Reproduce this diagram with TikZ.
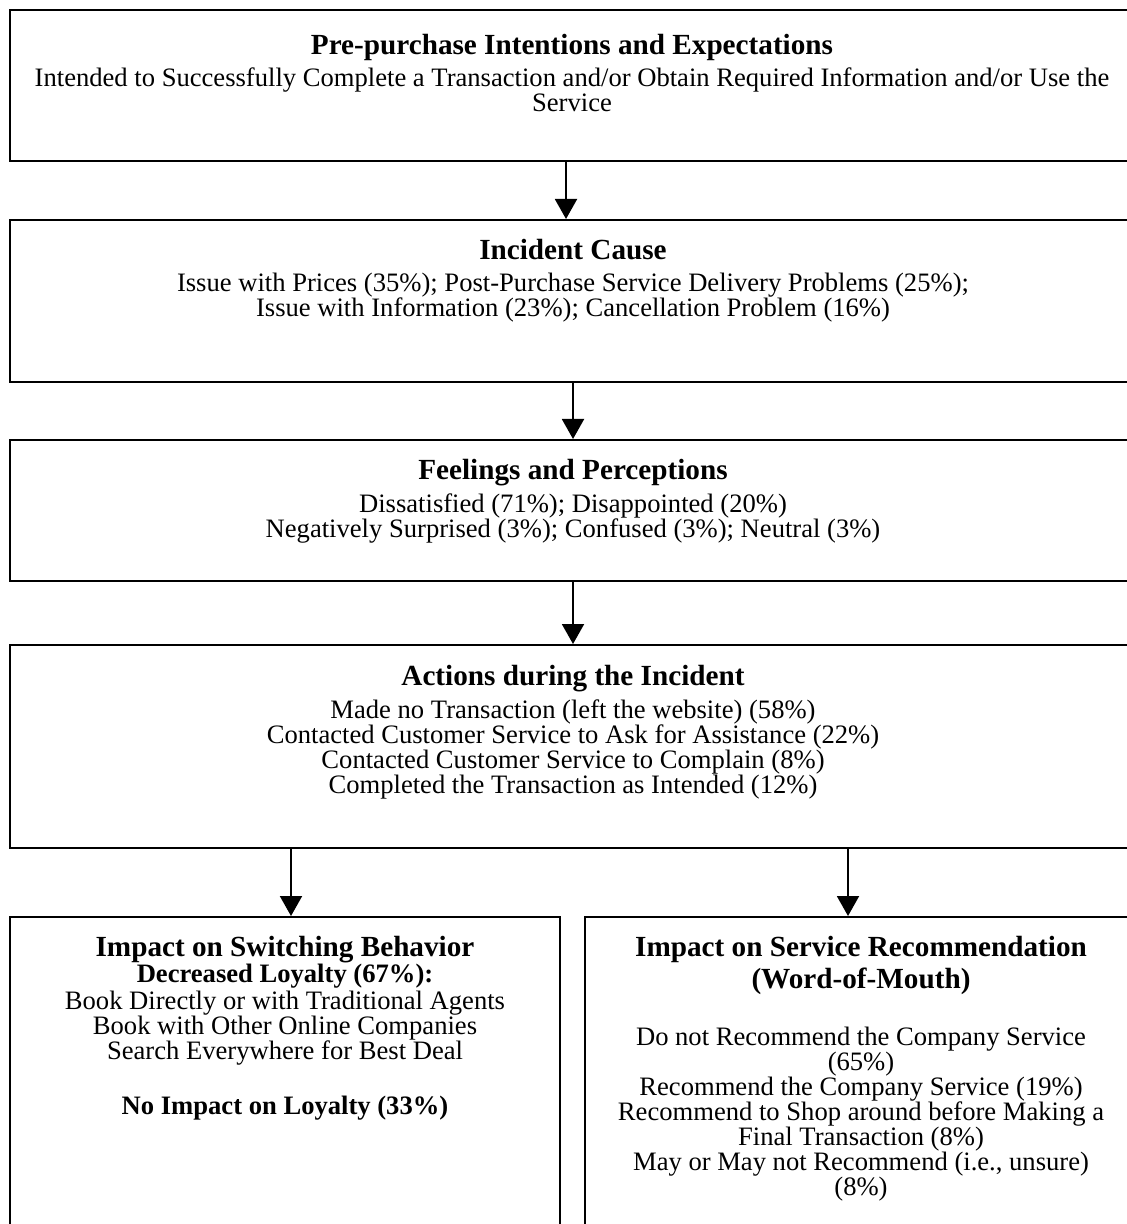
\documentclass[tikz,border=0pt]{standalone}
\usepackage{fontspec}
\setmainfont{Liberation Serif}
\usetikzlibrary{arrows.meta}
\newcommand\boxtitle[1]{{\fontsize{14.6pt}{12.5pt}\selectfont\bfseries #1}}
\begin{document}
\begin{tikzpicture}[x=0.5pt,y=-0.5pt,
  box/.style={draw, line width=1pt, inner sep=0pt, rectangle},
  arr/.style={line width=1pt, -{Triangle[width=11pt,length=10pt]}},
  txt/.style={align=center, inner sep=0pt, anchor=north, font=\fontsize{13.3pt}{12.5pt}\selectfont},
]
\useasboundingbox (0,0) rectangle (1127,1224);
\clip (0,0) rectangle (1127,1224);
\fill[white] (0,0) rectangle (1127,1224);

% boxes
\node[box, minimum width=565pt, minimum height=75.5pt] (b1) at (575,85.5) {};
\node[box, minimum width=565pt, minimum height=81pt] (b2) at (575,301) {};
\node[box, minimum width=565pt, minimum height=70.5pt] (b3) at (575,510.5) {};
\node[box, minimum width=565pt, minimum height=101.5pt] (b4) at (575,746.5) {};
\node[box, minimum width=275pt, minimum height=166.5pt] (b5) at (285,1083.5) {};
\node[box, minimum width=277.5pt, minimum height=166.5pt] (b6) at (862.5,1083.5) {};

% texts
\node[txt] (t1) at (572,34) {\boxtitle{Pre-purchase Intentions and Expectations}\\[3.5pt]
Intended to Successfully Complete a Transaction and/or Obtain Required Information and/or Use the\\
Service};
\node[txt] (t2) at (573,239) {\boxtitle{Incident Cause}\\[3.5pt]
Issue with Prices (35\%); Post-Purchase Service Delivery Problems (25\%);\\
Issue with Information (23\%); Cancellation Problem (16\%)};
\node[txt] (t3) at (573,459) {\boxtitle{Feelings and Perceptions}\\[3pt]
Dissatisfied (71\%); Disappointed (20\%)\\
Negatively Surprised (3\%); Confused (3\%); Neutral (3\%)};
\node[txt] (t4) at (573,665) {\boxtitle{Actions during the Incident}\\[3pt]
Made no Transaction (left the website) (58\%)\\
Contacted Customer Service to Ask for Assistance (22\%)\\
Contacted Customer Service to Complain (8\%)\\
Completed the Transaction as Intended (12\%)};
\node[txt] (t5) at (285,936) {\boxtitle{Impact on Switching Behavior}\\[0.5pt]
\textbf{Decreased Loyalty (67\%):}\\[1pt]
Book Directly or with Traditional Agents\\
Book with Other Online Companies\\
Search Everywhere for Best Deal\\[15pt]
\textbf{No Impact on Loyalty (33\%)}};
\node[txt] (t6) at (861,936) {\boxtitle{Impact on Service Recommendation}\\[1.5pt]
\boxtitle{(Word-of-Mouth)}\\[16pt]
Do not Recommend the Company Service\\
(65\%)\\
Recommend the Company Service (19\%)\\
Recommend to Shop around before Making a\\
Final Transaction (8\%)\\
May or May not Recommend (i.e., unsure)\\
(8\%)};

% arrow columns
\coordinate (a1) at (566,0);
\coordinate (a2) at (573,0);
\coordinate (a3) at (573,0);
\coordinate (a4) at (291,0);
\coordinate (a5) at (848,0);

\draw[arr] (b1.south -| a1) -- (b2.north -| a1);
\draw[arr] (b2.south -| a2) -- (b3.north -| a2);
\draw[arr] (b3.south -| a3) -- (b4.north -| a3);
\draw[arr] (b4.south -| a4) -- (b5.north -| a4);
\draw[arr] (b4.south -| a5) -- (b6.north -| a5);
\end{tikzpicture}
\end{document}
